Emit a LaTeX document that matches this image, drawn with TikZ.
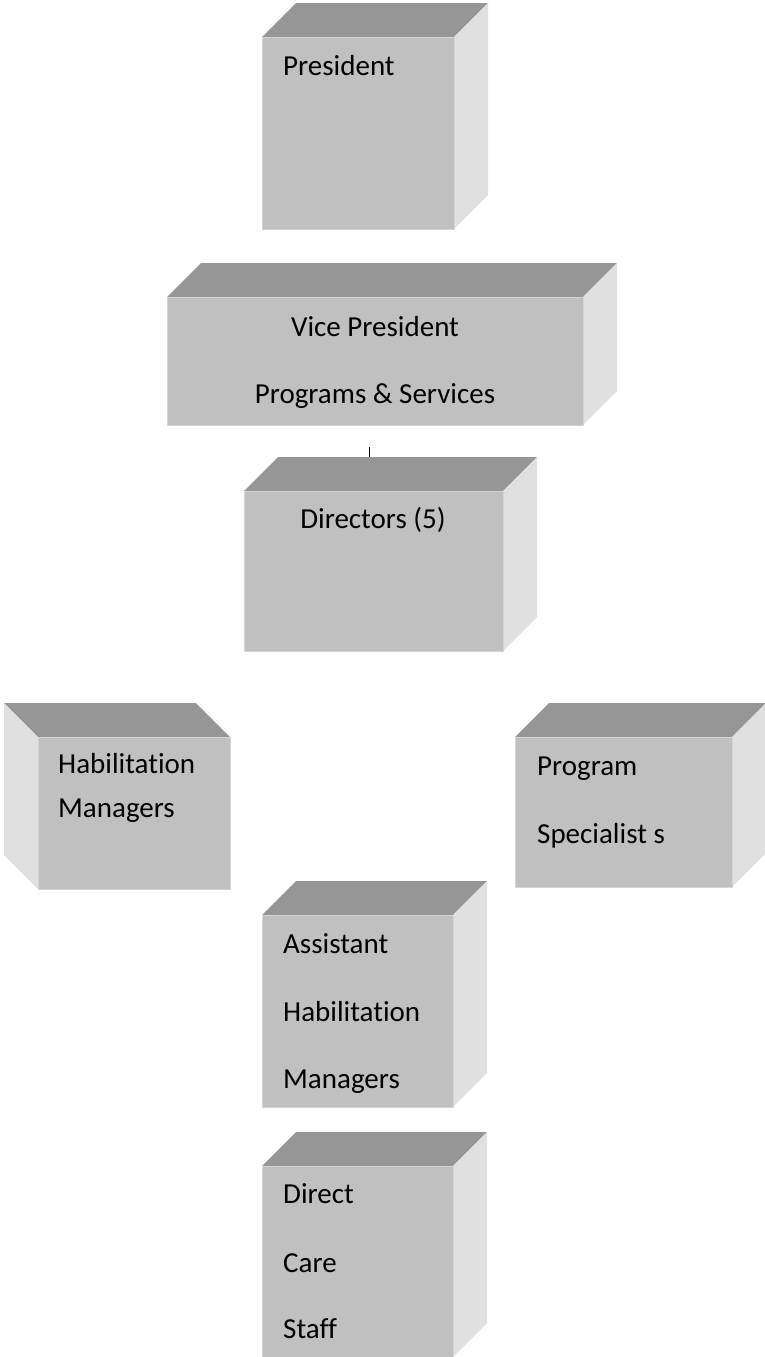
\documentclass[tikz,border=0pt]{standalone}
\usepackage{fontspec}
\setmainfont{Carlito}[Ligatures=NoCommon]
\usepackage{tikz}
\usetikzlibrary{calc}
\definecolor{frontgray}{HTML}{C0C0C0}
\definecolor{topgray}{HTML}{969696}
\definecolor{sidegray}{HTML}{E0E0E0}
\definecolor{edgegray}{HTML}{D4D4D4}
\tikzset{
	frontface/.style={fill=frontgray, draw=edgegray, line width=0.8pt, inner sep=0pt, outer sep=0pt, anchor=north west},
	topface/.style={fill=topgray},
	sideface/.style={fill=sidegray},
	label text/.style={inner sep=0pt, font=\fontsize{29}{35}\selectfont},
}
% cube with the side face on the right: name, left, top, right, bottom
\newcommand{\cubeR}[5]{
	\fill[topface] (#2,#3) -- (#2+34,#3-34) -- (#4+34,#3-34) -- (#4,#3) -- cycle;
	\fill[sideface] (#4,#3) -- (#4+34,#3-34) -- (#4+34,#5-34) -- (#4,#5) -- cycle;
	\coordinate (#1back) at (#2+34,#3-34);
	\node[frontface, minimum width={(#4-#2)*1pt}, minimum height={(#5-#3)*1pt}] (#1) at (#2,#3) {};
}
% cube with the side face on the left
\newcommand{\cubeL}[5]{
	\fill[topface] (#2,#3) -- (#2-34,#3-34) -- (#4-34,#3-34) -- (#4,#3) -- cycle;
	\fill[sideface] (#2,#3) -- (#2-34,#3-34) -- (#2-34,#5-34) -- (#2,#5) -- cycle;
	\coordinate (#1back) at (#2-34,#3-34);
	\node[frontface, minimum width={(#4-#2)*1pt}, minimum height={(#5-#3)*1pt}] (#1) at (#2,#3) {};
}

\begin{document}
\begin{tikzpicture}[x=1pt, y=-1pt]
			%%%%% START %%%%%
			\useasboundingbox (0,0) rectangle (765,1357);
			
			\cubeR{pres}{262}{37}{454}{229}
			\node[label text, anchor=base west] (prestext) at (283,75) {President};
			
			\cubeR{vp}{167}{297}{583}{425}
			\node[label text, anchor=base] (vptexta) at (375,336) {Vice President};
			\node[label text, anchor=base] (vptextb) at (375,403) {Programs \& Services};
			
			\cubeR{dir}{244}{491}{503}{651}
			\node[label text, anchor=base] (dirtext) at (373,528) {Directors (5)};
			
			\coordinate (vpstub) at (369,447);
			\draw[line width=0.8pt] (vpstub) -- (vpstub |- dirback);
			
			\cubeL{hab}{38}{737}{230}{889}
			\node[label text, anchor=base west] (habtexta) at (58,773) {Habilitation};
			\node[label text, anchor=base west] (habtextb) at (58,817) {Managers};
			
			\cubeR{spec}{515}{737}{732}{887}
			\node[label text, anchor=base west] (spectexta) at (537,775) {Program};
			\node[label text, anchor=base west] (spectextb) at (537,843) {Specialist s};
			
			\cubeR{asst}{262}{915}{453}{1107}
			\node[label text, anchor=base west] (assttexta) at (283,953) {Assistant};
			\node[label text, anchor=base west] (assttextb) at (283,1021) {Habilitation};
			\node[label text, anchor=base west] (assttextc) at (283,1088) {Managers};
			
			\cubeR{dcs}{262}{1166}{453}{1357}
			\node[label text, anchor=base west] (dcstexta) at (283,1203) {Direct};
			\node[label text, anchor=base west] (dcstextb) at (283,1272) {Care};
			\node[label text, anchor=base west] (dcstextc) at (283,1338) {Staff};
			
			%%%%% END %%%%%
\end{tikzpicture}
\end{document}
